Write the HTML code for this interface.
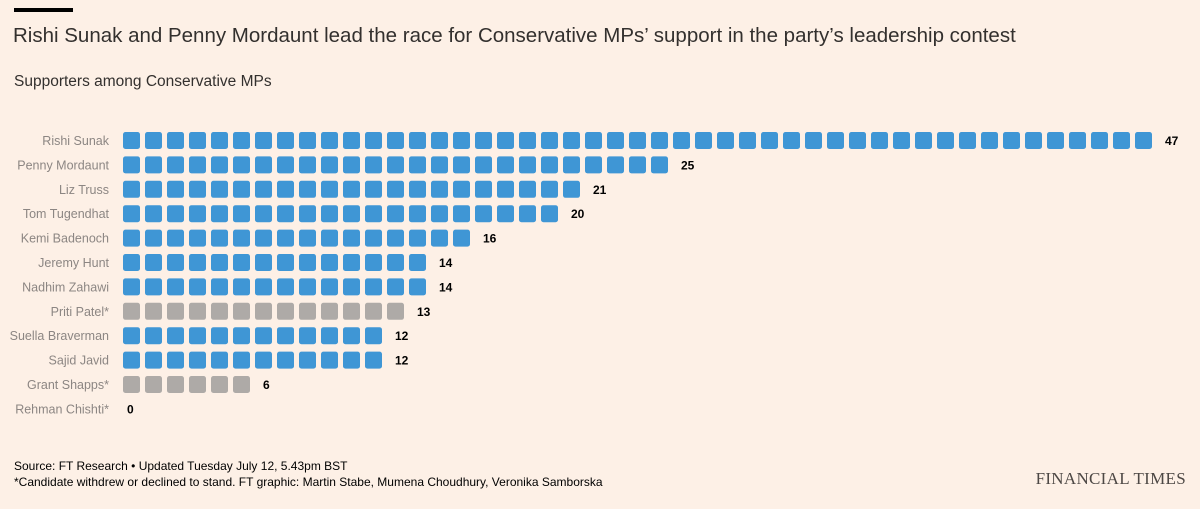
<!DOCTYPE html>
<html><head><meta charset="utf-8"><style>
body{margin:0;width:1200px;height:509px;background:#fdf0e6;font-family:"Liberation Sans",sans-serif;position:relative;overflow:hidden;color:#33302e}
.a{position:absolute;white-space:nowrap}
</style></head><body>
<div class="a" style="left:14px;top:8px;width:59px;height:4px;background:#000"></div>
<div class="a" style="left:13px;top:24px;font-size:20.5px;color:#33302e">Rishi Sunak and Penny Mordaunt lead the race for Conservative MPs’ support in the party’s leadership contest</div>
<div class="a" style="left:14px;top:73px;font-size:15.5px;color:#33302e">Supporters among Conservative MPs</div>
<svg class="a" style="left:0;top:0" width="1200" height="509" id="chart"></svg>
<div class="a" style="left:14px;top:458px;font-size:12px;line-height:16px;color:#000">Source: FT Research • Updated Tuesday July 12, 5.43pm BST<br>*Candidate withdrew or declined to stand. FT graphic: Martin Stabe, Mumena Choudhury, Veronika Samborska</div>
<div class="a" style="right:14px;top:469px;font-family:'Liberation Serif',serif;font-size:17px;color:#4d4845;letter-spacing:0.3px">FINANCIAL TIMES</div>
<script>
const candidates=["Rishi Sunak","Penny Mordaunt","Liz Truss","Tom Tugendhat","Kemi Badenoch","Jeremy Hunt","Nadhim Zahawi","Priti Patel*","Suella Braverman","Sajid Javid","Grant Shapps*","Rehman Chishti*"];
const supporters=[47,25,21,20,16,14,14,13,12,12,6,0];
const withdrawn=[false,false,false,false,false,false,false,true,false,false,true,true];
const NS="http://www.w3.org/2000/svg";
const svg=document.getElementById('chart');
const x0=123,pitch=22,sq=17,y0=132,rowH=24.4;
const xPos=i=>x0+i*pitch, yPos=r=>y0+r*rowH;
candidates.forEach((c,r)=>{
  const y=yPos(r);
  const t=document.createElementNS(NS,'text');
  
  
  t.setAttribute('x',109);t.setAttribute('y',y+13);t.setAttribute('text-anchor','end');
  t.setAttribute('font-size','12.5');t.setAttribute('fill','#8c8683');t.textContent=c;svg.appendChild(t);
  for(let i=0;i<supporters[r];i++){
    const s=document.createElementNS(NS,'rect');
    
    
    s.setAttribute('x',xPos(i));s.setAttribute('y',y);s.setAttribute('width',sq);s.setAttribute('height',sq);
    s.setAttribute('rx',2.5);s.setAttribute('fill',withdrawn[r]?'#aeaaa7':'#3f96d5');svg.appendChild(s);
  }
  const v=document.createElementNS(NS,'text');
  
  
  v.setAttribute('x',supporters[r]?xPos(supporters[r])+8:127);v.setAttribute('y',y+13);
  v.setAttribute('font-size','12');v.setAttribute('font-weight','bold');v.setAttribute('fill','#000');v.textContent=supporters[r];svg.appendChild(v);
});
</script>
</body></html>
